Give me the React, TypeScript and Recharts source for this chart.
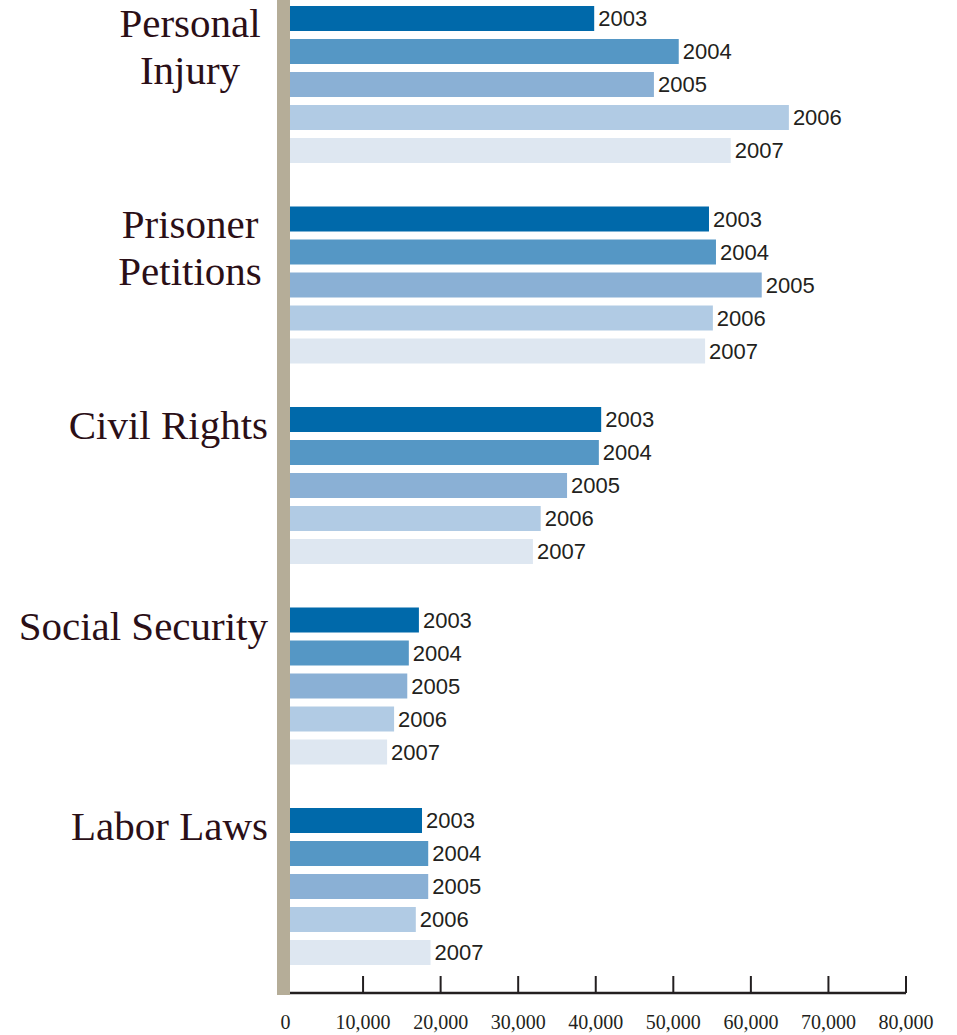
import React from 'react';
import { BarChart, Bar, XAxis, YAxis, LabelList } from 'recharts';

// case categories, top to bottom ("\n" marks the line break in the label)
const CATEGORIES = ['Personal\nInjury', 'Prisoner\nPetitions', 'Civil Rights', 'Social Security', 'Labor Laws'];
const YEARS = ['2003', '2004', '2005', '2006', '2007'];

// filings per year, same order as CATEGORIES
const PERSONAL_INJURY = [39800, 50700, 47500, 64900, 57400];
const PRISONER_PETITIONS = [54600, 55500, 61400, 55100, 54100];
const CIVIL_RIGHTS = [40700, 40400, 36300, 32900, 31900];
const SOCIAL_SECURITY = [17200, 15900, 15700, 14000, 13100];
const LABOR_LAWS = [17600, 18400, 18400, 16800, 18700];

const X_TICKS = [0, 10000, 20000, 30000, 40000, 50000, 60000, 70000, 80000];

const YEAR_COLORS = ['#0069aa', '#5597c5', '#8ab0d5', '#b1cbe4', '#dee7f1'];

const SERIES = [PERSONAL_INJURY, PRISONER_PETITIONS, CIVIL_RIGHTS, SOCIAL_SECURITY, LABOR_LAWS];

const data = CATEGORIES.map((name, i) => {
  const row: Record<string, string | number> = { name };
  YEARS.forEach((yr, j) => {
    row['y' + yr] = SERIES[i][j];
  });
  return row;
});

const INK = '#231f20';
const LABEL_INK = '#2b0f17';

const CategoryTick = (props: any) => {
  const { y, payload } = props;
  const lines = String(payload.value).split('\n');
  const style = { fontFamily: '"Liberation Serif", serif', fontSize: 41, fill: LABEL_INK };
  if (lines.length > 1) {
    return (
      <g>
        <text x={190} y={y - 46} textAnchor="middle" style={style}>{lines[0]}</text>
        <text x={190} y={y + 1} textAnchor="middle" style={style}>{lines[1]}</text>
      </g>
    );
  }
  return (
    <text x={268} y={y - 45} textAnchor="end" style={style}>{lines[0]}</text>
  );
};

const ValueTick = (props: any) => {
  const { x, y, payload } = props;
  return (
    <g>
      {payload.value !== 0 && (
        <line x1={x} x2={x} y1={y - 17} y2={y} stroke={INK} strokeWidth={2} />
      )}
      <text
        x={x}
        y={y + 36}
        textAnchor="middle"
        style={{ fontFamily: '"Liberation Serif", serif', fontSize: 20, fill: INK }}
      >
        {payload.value.toLocaleString('en-US')}
      </text>
    </g>
  );
};

export default function App() {
  return (
    <div style={{ position: 'absolute', left: 0, top: -17, width: 957, height: 1052 }}>
      <BarChart
        width={957}
        height={1052}
        data={data}
        layout="vertical"
        margin={{ top: 0, right: 51, bottom: 0, left: 0 }}
        barCategoryGap={23}
        barGap={8}
      >
        <XAxis
          type="number"
          domain={[0, 80000]}
          ticks={X_TICKS}
          interval={0}
          height={42}
          tickSize={0}
          tickMargin={0}
          tickLine={false}
          axisLine={{ stroke: INK, strokeWidth: 2.5 }}
          tick={<ValueTick />}
        />
        <YAxis
          type="category"
          dataKey="name"
          width={285.5}
          padding={{ top: 0, bottom: 7.5 }}
          tickLine={false}
          axisLine={false}
          interval={0}
          tick={<CategoryTick />}
        />
        {YEARS.map((yr, j) => (
          <Bar key={yr} dataKey={'y' + yr} fill={YEAR_COLORS[j]} isAnimationActive={false}>
            <LabelList
              dataKey={'y' + yr}
              position="right"
              offset={4}
              formatter={() => yr}
              style={{ fontFamily: '"Liberation Sans", Arial, sans-serif', fontSize: 22, fill: INK }}
            />
          </Bar>
        ))}
      </BarChart>
      {/* tan rule down the left edge of the bars */}
      <div
        style={{
          position: 'absolute',
          left: 277,
          top: 17,
          width: 13,
          height: 995,
          background: '#b5ad98',
          zIndex: 1,
        }}
      />
    </div>
  );
}
